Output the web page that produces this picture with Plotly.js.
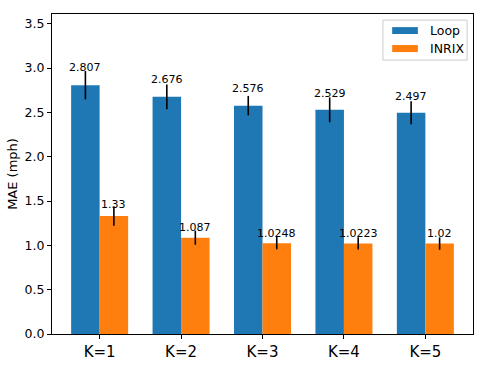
<!DOCTYPE html>
<html>
<head>
<meta charset="utf-8">
<script src="https://cdn.plot.ly/plotly-3.0.1.min.js"></script>
<style>html,body{margin:0;padding:0;background:#fff;}#chart{width:488px;height:365px;}</style>
</head>
<body>
<div id="chart"></div>
<script>
const categories = ["K=1", "K=2", "K=3", "K=4", "K=5"];
const loopValues = [2.807, 2.676, 2.576, 2.529, 2.497];
const loopErrors = [0.16, 0.14, 0.11, 0.14, 0.13];
const inrixValues = [1.33, 1.087, 1.0248, 1.0223, 1.02];
const inrixErrors = [0.11, 0.08, 0.07, 0.07, 0.07];
const loopLabels = ["2.807", "2.676", "2.576", "2.529", "2.497"];
const inrixLabels = ["1.33", "1.087", "1.0248", "1.0223", "1.02"];
const seriesNames = ["Loop", "INRIX"];
const seriesColors = ["#1f77b4", "#ff7f0e"];

const barWidth = 0.35;
const idx = categories.map((_, i) => i);
const font = "DejaVu Sans, sans-serif";

const traces = [
  {
    type: "bar", name: seriesNames[0],
    x: idx.map(i => i - barWidth / 2), y: loopValues, width: barWidth,
    marker: {color: seriesColors[0]},
    error_y: {type: "data", array: loopErrors, visible: true, color: "#000", thickness: 1.6, width: 0}
  },
  {
    type: "bar", name: seriesNames[1],
    x: idx.map(i => i + barWidth / 2), y: inrixValues, width: barWidth,
    marker: {color: seriesColors[1]},
    error_y: {type: "data", array: inrixErrors, visible: true, color: "#000", thickness: 1.6, width: 0}
  }
];

const annotations = [];
idx.forEach(i => {
  annotations.push({x: i - barWidth / 2, y: loopValues[i] * 1.05, xref: "x", yref: "y", text: loopLabels[i],
    showarrow: false, yanchor: "bottom", xanchor: "center", font: {family: font, size: 11, color: "#000"}, yshift: -3});
  annotations.push({x: i + barWidth / 2, y: inrixValues[i] * 1.05, xref: "x", yref: "y", text: inrixLabels[i],
    showarrow: false, yanchor: "bottom", xanchor: "center", font: {family: font, size: 11, color: "#000"}, yshift: -3});
});

// manual matplotlib-style legend
const shapes = [
  {type: "rect", xref: "paper", yref: "paper", x0: 0.786, x1: 0.986, y0: 0.856, y1: 0.981,
   line: {color: "#cccccc", width: 1}, fillcolor: "rgba(255,255,255,0.8)", layer: "above"},
  {type: "rect", xref: "paper", yref: "paper", x0: 0.808, x1: 0.869, y0: 0.9375, y1: 0.959,
   line: {width: 0}, fillcolor: seriesColors[0], layer: "above"},
  {type: "rect", xref: "paper", yref: "paper", x0: 0.808, x1: 0.869, y0: 0.881, y1: 0.903,
   line: {width: 0}, fillcolor: seriesColors[1], layer: "above"}
];
annotations.push({xref: "paper", yref: "paper", x: 0.893, y: 0.948, text: seriesNames[0], showarrow: false,
  xanchor: "left", yanchor: "middle", font: {family: font, size: 12.5, color: "#000"}});
annotations.push({xref: "paper", yref: "paper", x: 0.893, y: 0.892, text: seriesNames[1], showarrow: false,
  xanchor: "left", yanchor: "middle", font: {family: font, size: 12.5, color: "#000"}});

const layout = {
  width: 488, height: 365,
  margin: {l: 52, r: 15, t: 14, b: 31},
  paper_bgcolor: "#fff", plot_bgcolor: "#fff",
  font: {family: font, color: "#000"},
  barmode: "overlay",
  showlegend: false,
  xaxis: {
    range: [-0.585, 4.585], tickvals: idx, ticktext: categories,
    showgrid: false, zeroline: false, showline: true, mirror: true, linecolor: "#000", linewidth: 1,
    ticks: "outside", ticklen: 4, tickcolor: "#000", tickfont: {family: font, size: 15, color: "#000"}
  },
  yaxis: {
    range: [0, 3.61], tickvals: [0, 0.5, 1, 1.5, 2, 2.5, 3, 3.5],
    ticktext: ["0.0", "0.5", "1.0", "1.5", "2.0", "2.5", "3.0", "3.5"],
    showgrid: false, zeroline: false, showline: true, mirror: true, linecolor: "#000", linewidth: 1,
    ticks: "outside", ticklen: 4, tickcolor: "#000", tickfont: {family: font, size: 12.5, color: "#000"},
    title: {text: "MAE (mph)", font: {family: font, size: 13, color: "#000"}, standoff: 4}
  },
  shapes: shapes,
  annotations: annotations
};

Plotly.newPlot("chart", traces, layout, {displayModeBar: false, staticPlot: true});
</script>
</body>
</html>
